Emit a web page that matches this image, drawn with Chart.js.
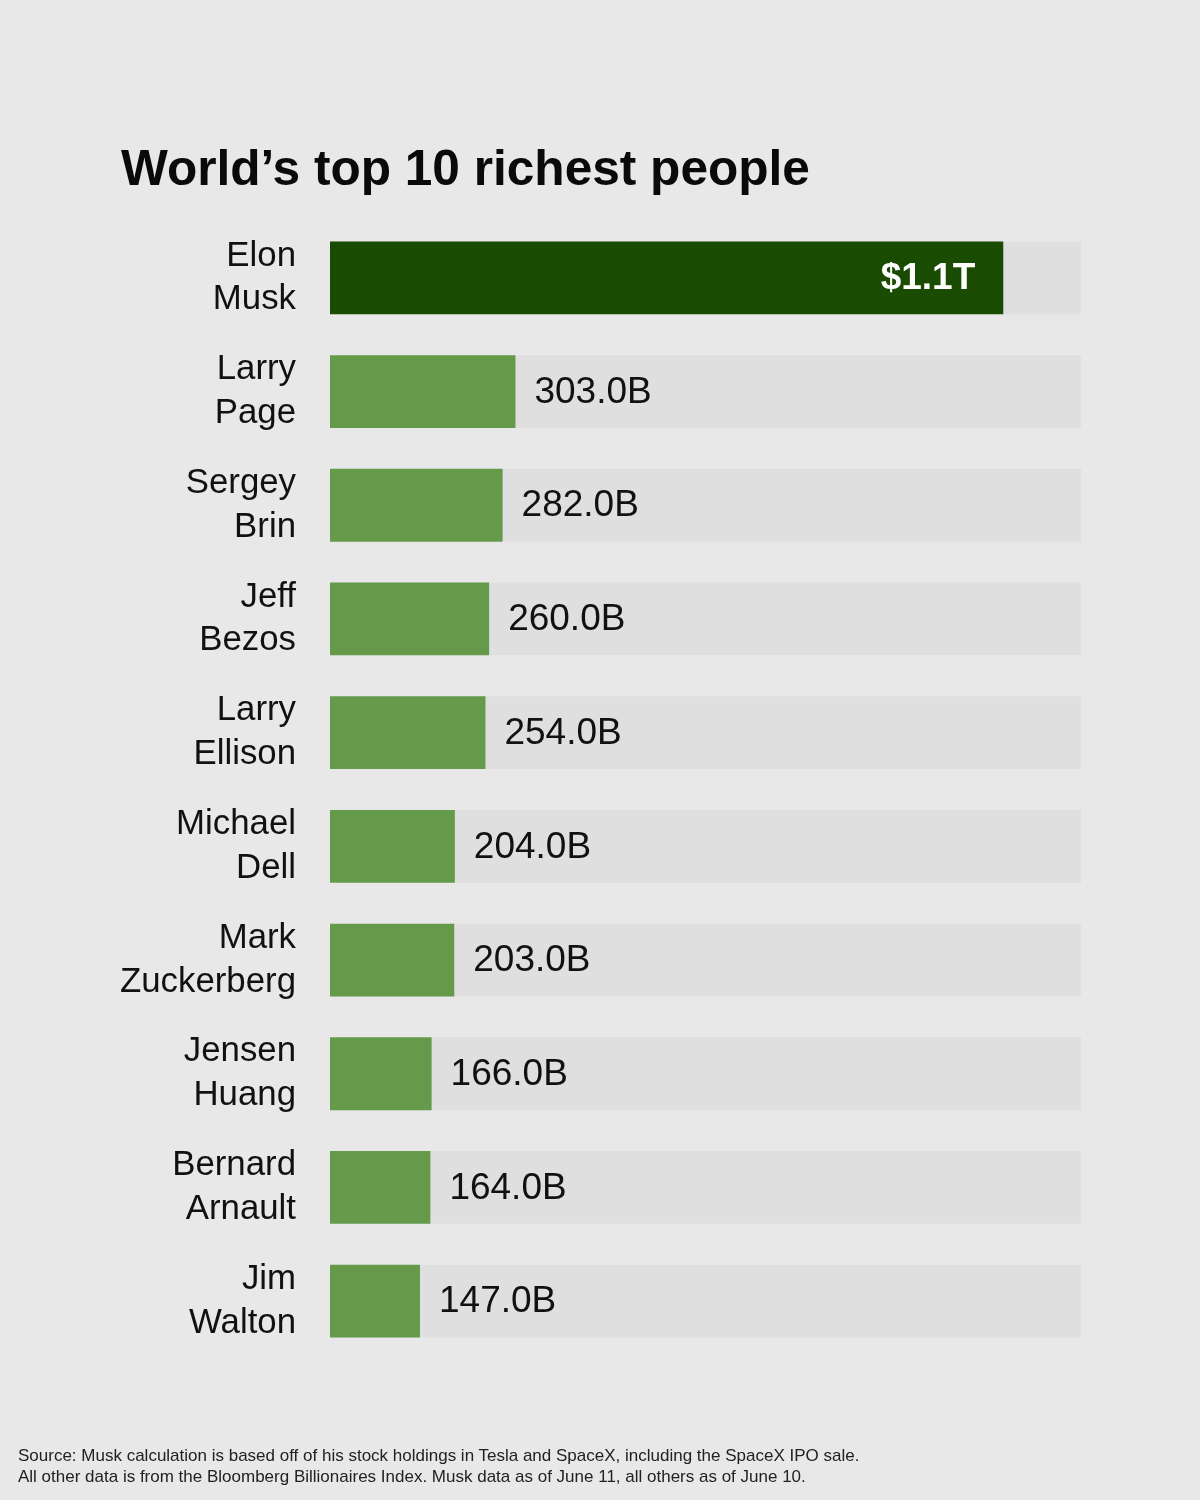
<!DOCTYPE html>
<html>
<head>
<meta charset="utf-8">
<script src="https://cdn.jsdelivr.net/npm/chart.js@4/dist/chart.umd.min.js"></script>
<style>
  html, body { margin: 0; padding: 0; background: #e8e8e8; }
  body { width: 1200px; height: 1500px; position: relative; overflow: hidden; font-family: "Liberation Sans", Arial, sans-serif; }
  #title { position: absolute; left: 121px; top: 139px; font-size: 49.6px; font-weight: bold; color: #0a0a0a; white-space: nowrap; }
  #source { position: absolute; left: 18px; top: 1446px; font-size: 17px; line-height: 20.5px; color: #222; white-space: nowrap; }
  #wrap { position: absolute; left: 0; top: 0; width: 1200px; height: 1500px; }
</style>
</head>
<body>
<div id="wrap"><canvas id="c" width="1200" height="1500"></canvas></div>
<div id="title">World’s top 10 richest people</div>
<div id="source">Source: Musk calculation is based off of his stock holdings in Tesla and SpaceX, including the SpaceX IPO sale.<br>All other data is from the Bloomberg Billionaires Index. Musk data as of June 11, all others as of June 10.</div>
<script>
const names = [
  ["Elon", "Musk"], ["Larry", "Page"], ["Sergey", "Brin"], ["Jeff", "Bezos"],
  ["Larry", "Ellison"], ["Michael", "Dell"], ["Mark", "Zuckerberg"],
  ["Jensen", "Huang"], ["Bernard", "Arnault"], ["Jim", "Walton"]
];
const netWorth = [1100, 303, 282, 260, 254, 204, 203, 166, 164, 147];
const valueLabels = ["$1.1T", "303.0B", "282.0B", "260.0B", "254.0B", "204.0B", "203.0B", "166.0B", "164.0B", "147.0B"];
const scaleMax = 1227;
const trackValues = names.map(() => scaleMax);

const barColors = netWorth.map((v, i) => i === 0 ? "#1a4b02" : "#669a4b");

const valueLabelPlugin = {
  id: "valueLabels",
  afterDatasetsDraw(chart) {
    const ctx = chart.ctx;
    const meta = chart.getDatasetMeta(1);
    ctx.save();
    ctx.textBaseline = "middle";
    meta.data.forEach((bar, i) => {
      if (i === 0) {
        ctx.font = "bold 37px 'Liberation Sans', Arial, sans-serif";
        ctx.fillStyle = "#ffffff";
        ctx.textAlign = "right";
        ctx.fillText(valueLabels[i], bar.x - 28, bar.y + 1);
      } else {
        ctx.font = "37px 'Liberation Sans', Arial, sans-serif";
        ctx.fillStyle = "#111111";
        ctx.textAlign = "left";
        ctx.fillText(valueLabels[i], bar.x + 19, bar.y + 1);
      }
    });
    ctx.restore();
  }
};

new Chart(document.getElementById("c"), {
  type: "bar",
  data: {
    labels: names,
    datasets: [
      {
        data: trackValues,
        backgroundColor: "#dfdfdf",
        barPercentage: 0.64,
        categoryPercentage: 1,
        grouped: false,
        order: 2
      },
      {
        data: netWorth,
        backgroundColor: barColors,
        barPercentage: 0.64,
        categoryPercentage: 1,
        grouped: false,
        order: 1
      }
    ]
  },
  options: {
    indexAxis: "y",
    responsive: false,
    animation: false,
    devicePixelRatio: 1,
    layout: { padding: { left: 0, right: 119, top: 221, bottom: 142 } },
    plugins: { legend: { display: false }, tooltip: { enabled: false } },
    scales: {
      x: {
        min: 0, max: scaleMax,
        display: false,
        grid: { display: false }
      },
      y: {
        afterFit(scale) { scale.width = 330; },
        grid: { display: false, drawTicks: false },
        border: { display: false },
        ticks: {
          color: "#111111",
          padding: 34,
          font: { family: "'Liberation Sans', Arial, sans-serif", size: 34.8, lineHeight: 1.26 }
        }
      }
    }
  },
  plugins: [valueLabelPlugin]
});
</script>
</body>
</html>
